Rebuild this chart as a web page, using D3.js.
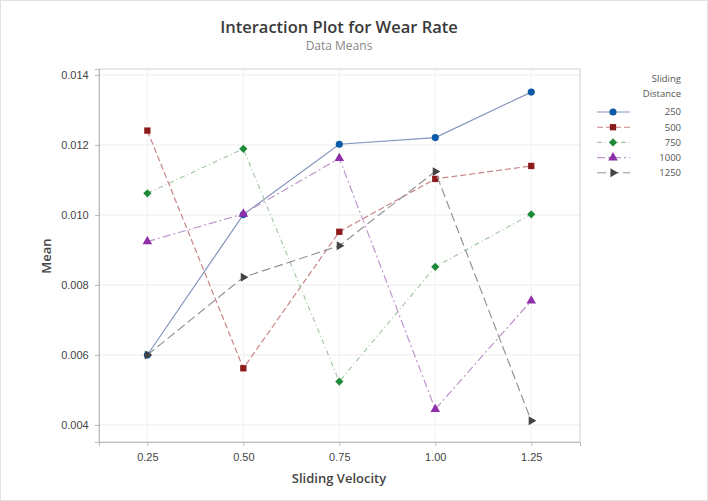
<!DOCTYPE html>
<html>
<head>
<meta charset="utf-8">
<script src="https://cdn.jsdelivr.net/npm/d3@7"></script>
<style>
  body { margin: 0; background: #fff; }
  svg { font-family: "Open Sans", "Noto Sans", sans-serif; }
</style>
</head>
<body>
<script>
// Data
const velocities = [0.25, 0.50, 0.75, 1.00, 1.25];
const distances = ["250", "500", "750", "1000", "1250"];
const mean250 = [0.00600, 0.01001, 0.01202, 0.01221, 0.01351];
const mean500 = [0.01241, 0.00562, 0.00952, 0.01103, 0.01140];
const mean750 = [0.01062, 0.01189, 0.00524, 0.00852, 0.01002];
const mean1000 = [0.00924, 0.01003, 0.01162, 0.00445, 0.00755];
const mean1250 = [0.00600, 0.00822, 0.00912, 0.01124, 0.00412];
const yTicks = [0.004, 0.006, 0.008, 0.010, 0.012, 0.014];

const seriesValues = [mean250, mean500, mean750, mean1000, mean1250];

const width = 708;
const height = 501;
const plot = { left: 99, right: 580, top: 69, bottom: 442 };

const markerColors = ["#0b5aa8", "#8e1b1b", "#1f8a3a", "#8e2ea8", "#444444"];
const lineColors = ["#8494bb", "#c98585", "#a6c9a6", "#bf95cc", "#959595"];
const dashes = [null, "6,3", "5,3,1,3", "8,3,2,3", "9,4"];
const symbols = [d3.symbolCircle, d3.symbolSquare, d3.symbolSquare, d3.symbolTriangle, d3.symbolTriangle];
const rotations = [0, 0, 45, 0, 90];
const sizes = [40, 40, 34, 40, 34];

const x = d3.scaleLinear()
  .domain([0.124, 1.377])
  .range([plot.left, plot.right]);

const y = d3.scaleLinear()
  .domain([0.003514, 0.01417])
  .range([plot.bottom, plot.top]);

const svg = d3.select("body")
  .append("svg")
  .attr("width", width)
  .attr("height", height);

// outer frame
svg.append("rect")
  .attr("x", 0.5).attr("y", 0.5)
  .attr("width", width - 1).attr("height", height - 1)
  .attr("fill", "#fff")
  .attr("stroke", "#e2e2e2");

// gridlines
svg.append("g")
  .selectAll("line")
  .data(yTicks)
  .join("line")
  .attr("x1", plot.left).attr("x2", plot.right)
  .attr("y1", d => y(d)).attr("y2", d => y(d))
  .attr("stroke", "#ececec");

svg.append("g")
  .selectAll("line")
  .data(velocities)
  .join("line")
  .attr("y1", plot.top).attr("y2", plot.bottom)
  .attr("x1", d => x(d)).attr("x2", d => x(d))
  .attr("stroke", "#f1f1f1");

// plot frame
svg.append("rect")
  .attr("x", plot.left).attr("y", plot.top)
  .attr("width", plot.right - plot.left)
  .attr("height", plot.bottom - plot.top)
  .attr("fill", "none")
  .attr("stroke", "#cfcfcf");

// axes
const xAxis = svg.append("g")
  .attr("transform", `translate(0,${plot.bottom})`)
  .call(d3.axisBottom(x).tickValues(velocities).tickFormat(d3.format(".2f")).tickSizeOuter(0).tickSize(4));
xAxis.select(".domain").attr("stroke", "#bbb");
xAxis.selectAll(".tick line").attr("stroke", "#bbb");
xAxis.selectAll("text").attr("font-size", 11).attr("fill", "#444").attr("dy", "1.05em");

const yAxis = svg.append("g")
  .attr("transform", `translate(${plot.left},0)`)
  .call(d3.axisLeft(y).tickValues(yTicks).tickFormat(d3.format(".3f")).tickSizeOuter(0).tickSize(4));
yAxis.select(".domain").attr("stroke", "#bbb");
yAxis.selectAll(".tick line").attr("stroke", "#bbb");
yAxis.selectAll("text").attr("font-size", 11).attr("fill", "#444").attr("dx", "-0.3em");

// titles
svg.append("text")
  .attr("x", 339).attr("y", 33)
  .attr("text-anchor", "middle")
  .attr("font-size", 16.5)
  .attr("font-weight", 600)
  .attr("fill", "#3a3a3a")
  .text("Interaction Plot for Wear Rate");

svg.append("text")
  .attr("x", 339).attr("y", 50)
  .attr("text-anchor", "middle")
  .attr("font-size", 12)
  .attr("fill", "#888")
  .text("Data Means");

svg.append("text")
  .attr("x", 339).attr("y", 483)
  .attr("text-anchor", "middle")
  .attr("font-size", 13)
  .attr("font-weight", 600)
  .attr("fill", "#444")
  .text("Sliding Velocity");

svg.append("text")
  .attr("transform", `translate(51,256) rotate(-90)`)
  .attr("text-anchor", "middle")
  .attr("font-size", 13)
  .attr("font-weight", 600)
  .attr("fill", "#444")
  .text("Mean");

// series lines and markers
const line = d3.line()
  .x((d, i) => x(velocities[i]))
  .y(d => y(d));

const series = svg.append("g")
  .selectAll("g")
  .data(seriesValues)
  .join("g");

series.append("path")
  .attr("fill", "none")
  .attr("stroke", (d, i) => lineColors[i])
  .attr("stroke-width", 1.2)
  .attr("stroke-dasharray", (d, i) => dashes[i])
  .attr("d", d => line(d));

series.each(function(vals, s) {
  d3.select(this).selectAll("path.mark")
    .data(vals)
    .join("path")
    .attr("class", "mark")
    .attr("transform", (d, i) => `translate(${x(velocities[i])},${y(d)}) rotate(${rotations[s]})`)
    .attr("d", d3.symbol().type(symbols[s]).size(sizes[s]))
    .attr("fill", markerColors[s]);
});

// legend
const legend = svg.append("g");
legend.append("text")
  .attr("x", 681).attr("y", 82)
  .attr("text-anchor", "end")
  .attr("font-size", 9.5)
  .attr("fill", "#555")
  .text("Sliding");
legend.append("text")
  .attr("x", 681).attr("y", 97)
  .attr("text-anchor", "end")
  .attr("font-size", 9.5)
  .attr("fill", "#555")
  .text("Distance");

const item = legend.selectAll("g.item")
  .data(distances)
  .join("g")
  .attr("class", "item")
  .attr("transform", (d, i) => `translate(0,${112 + i * 15.2})`);

item.append("line")
  .attr("x1", 597).attr("x2", 630)
  .attr("stroke", (d, i) => lineColors[i])
  .attr("stroke-width", 1.1)
  .attr("stroke-dasharray", (d, i) => dashes[i]);

item.append("path")
  .attr("transform", (d, i) => `translate(613,0) rotate(${rotations[i]})`)
  .attr("d", (d, i) => d3.symbol().type(symbols[i]).size(sizes[i])())
  .attr("fill", (d, i) => markerColors[i]);

item.append("text")
  .attr("x", 681).attr("dy", "0.35em")
  .attr("text-anchor", "end")
  .attr("font-size", 9.5)
  .attr("fill", "#555")
  .text(d => d);
</script>
</body>
</html>
